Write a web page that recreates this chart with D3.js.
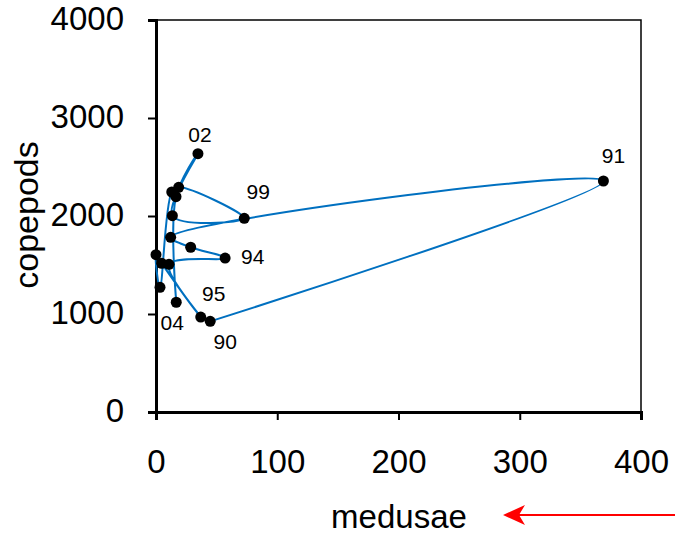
<!DOCTYPE html>
<html>
<head>
<meta charset="utf-8">
<script src="https://cdn.jsdelivr.net/npm/d3@7"></script>
<style>
  body { margin: 0; background: #fff; }
  svg text { font-family: "Liberation Sans", Arial, sans-serif; fill: #000; }
</style>
</head>
<body>
<svg id="chart" width="675" height="537"></svg>
<script>
// points in the order the line joins them; year label where shown
const years    = ["90", "91", "", "", "94", "", "95", "", "", "", "", "", "99", "", "02", "", "04"];
const medusae  = [44.7, 369, 12.1, 28.6, 57, 10.7, 36.9, 4.7, 0, 3.3, 13, 18.7, 72.8, 13.5, 34.6, 16.5, 16.7];
const copepods = [925, 2357, 1783, 1681, 1571, 1507, 969, 1517, 1605, 1272, 2245, 2293, 1976, 2003, 2636, 2197, 1120];
const xTicks = [0, 100, 200, 300, 400];
const yTicks = [0, 1000, 2000, 3000, 4000];

const svg = d3.select("#chart");
const plotL = 156, plotR = 641, plotT = 20, plotB = 412;

const x = d3.scaleLinear().domain([0, 400]).range([plotL, plotR]);
const y = d3.scaleLinear().domain([0, 4000]).range([plotB, plotT]);

const pts = years.map((yr, i) => ({ yr, mx: medusae[i], cp: copepods[i] }));

// frame (thin top/right)
svg.append("path")
    .attr("d", `M${plotL},${plotT}H${plotR}V${plotB}`)
    .attr("fill", "none")
    .attr("stroke", "#000")
    .attr("stroke-width", 1.5);

// axes
const xAxis = svg.append("g")
    .attr("transform", `translate(0,${plotB})`)
    .call(d3.axisBottom(x).tickValues(xTicks).tickFormat(d3.format("d")).tickSize(8).tickPadding(30));
const yAxis = svg.append("g")
    .attr("transform", `translate(${plotL},0)`)
    .call(d3.axisLeft(y).tickValues(yTicks).tickFormat(d3.format("d")).tickSize(8).tickPadding(24));

[xAxis, yAxis].forEach(g => {
    g.select(".domain").attr("stroke", "#000").attr("stroke-width", 3);
    g.selectAll(".tick line").attr("stroke", "#000").attr("stroke-width", 2);
    g.selectAll(".tick text").style("font-size", "33px").style("font-family", "Liberation Sans, Arial, sans-serif");
});
yAxis.selectAll(".tick text").attr("dy", "0.28em");

// trajectory
const line = d3.line()
    .x(d => x(d.mx))
    .y(d => y(d.cp))
    .curve(d3.curveCatmullRom.alpha(0.5));

svg.append("path")
    .datum(pts)
    .attr("d", line)
    .attr("fill", "none")
    .attr("stroke", "#0070C0")
    .attr("stroke-width", 2);

svg.selectAll(".pt")
    .data(pts)
    .enter()
    .append("circle")
    .attr("class", "pt")
    .attr("cx", d => x(d.mx))
    .attr("cy", d => y(d.cp))
    .attr("r", 5.5)
    .attr("fill", "#000");

// year labels: offsets from the point
const labelOffset = {
    "90": [15, 22], "91": [10, -24], "94": [16, 0], "95": [13, -22],
    "99": [14, -25], "02": [2, -17], "04": [-4, 22]
};

svg.selectAll(".yr")
    .data(pts.filter(d => d.yr !== ""))
    .enter()
    .append("text")
    .attr("class", "yr")
    .attr("x", d => x(d.mx) + labelOffset[d.yr][0])
    .attr("y", d => y(d.cp) + labelOffset[d.yr][1])
    .attr("text-anchor", d => d.yr === "94" ? "start" : "middle")
    .attr("dominant-baseline", "middle")
    .style("font-size", "21px")
    .text(d => d.yr);

// axis titles
svg.append("text")
    .attr("x", 399)
    .attr("y", 528)
    .attr("text-anchor", "middle")
    .style("font-size", "33px")
    .text("medusae");

svg.append("text")
    .attr("transform", "translate(38,215) rotate(-90)")
    .attr("text-anchor", "middle")
    .style("font-size", "34px")
    .text("copepods");

// red arrow pointing left
svg.append("line")
    .attr("x1", 675).attr("y1", 515)
    .attr("x2", 512).attr("y2", 515)
    .attr("stroke", "#ff0000")
    .attr("stroke-width", 2);
svg.append("path")
    .attr("d", "M503,515 L525,505 L519,515 L525,525 Z")
    .attr("fill", "#ff0000");
</script>
</body>
</html>
